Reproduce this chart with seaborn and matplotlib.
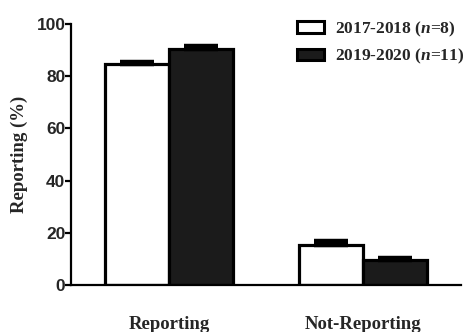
import matplotlib
matplotlib.use("Agg")
import matplotlib.pyplot as plt
import seaborn as sns
import pandas as pd
import numpy as np
from matplotlib.patches import Patch

# Share of respondents by reporting status and survey period
categories = ["Reporting", "Not-Reporting"]
periods = ["2017-2018", "2019-2020"]
period_labels = ["2017-2018 ($n$=8)", "2019-2020 ($n$=11)"]
pct_2017_2018 = [84.5, 15.5]
pct_2019_2020 = [90.5, 9.5]
sem_2017_2018 = [0.8, 1.5]
sem_2019_2020 = [1.1, 1.0]
y_ticks = [0, 20, 40, 60, 80, 100]

sns.set_theme(style="ticks")
plt.rcParams["font.family"] = ["Liberation Serif", "DejaVu Serif"]
plt.rcParams["mathtext.fontset"] = "custom"
plt.rcParams["mathtext.it"] = "Liberation Serif:italic:bold"
plt.rcParams["mathtext.rm"] = "Liberation Serif:bold"

df = pd.DataFrame({
    "category": categories * 2,
    "period": [periods[0]] * 2 + [periods[1]] * 2,
    "pct": pct_2017_2018 + pct_2019_2020,
})
errs = {periods[0]: sem_2017_2018, periods[1]: sem_2019_2020}

fig = plt.figure(figsize=(4.67, 3.32), dpi=100)
ax = fig.add_axes([0.152, 0.1416, 0.835, 0.786])

colors = ["white", "#1b1b1b"]
sns.barplot(data=df, x="category", y="pct", hue="period", order=categories,
            hue_order=periods, palette=colors, saturation=1, width=0.66,
            edgecolor="black", linewidth=2.3, errorbar=None, legend=False, ax=ax)

# upper SEM caps
for cont, per in zip(ax.containers, periods):
    for bar, e in zip(cont, errs[per]):
        xc = bar.get_x() + bar.get_width() / 2
        h = bar.get_height()
        ax.errorbar(xc, h, yerr=[[0], [e]], fmt="none", ecolor="black",
                    elinewidth=2.3, capsize=12.5, capthick=3.2, zorder=3)

ax.set_ylim(0, 100)
ax.set_xlim(-0.508, 1.503)
ax.set_yticks(y_ticks)
ax.set_yticklabels([str(t) for t in y_ticks], fontfamily="Liberation Sans",
                   fontweight="bold", fontsize=12.5)
ax.tick_params(axis="y", length=4, width=1.6, color="black", pad=0)
ax.tick_params(axis="x", length=0, pad=22)
for lab in ax.get_xticklabels():
    lab.set_fontweight("bold")
    lab.set_fontsize(13.5)
ax.set_xlabel("")
ax.set_ylabel("Reporting (%)", fontweight="bold", fontsize=13.5, labelpad=6)

sns.despine(ax=ax)
for s in ["left", "bottom"]:
    ax.spines[s].set_linewidth(1.6)
    ax.spines[s].set_color("black")

handles = [Patch(facecolor=c, edgecolor="black", linewidth=2.2) for c in colors]
leg = ax.legend(handles, period_labels, loc="upper right", frameon=False,
                bbox_to_anchor=(1.045, 1.07), handlelength=1.55, handleheight=0.63,
                labelspacing=0.45, handletextpad=0.65, borderpad=0.3,
                prop={"family": "Liberation Serif", "weight": "bold", "size": 12.5})

fig.savefig("out.png", dpi=100)
